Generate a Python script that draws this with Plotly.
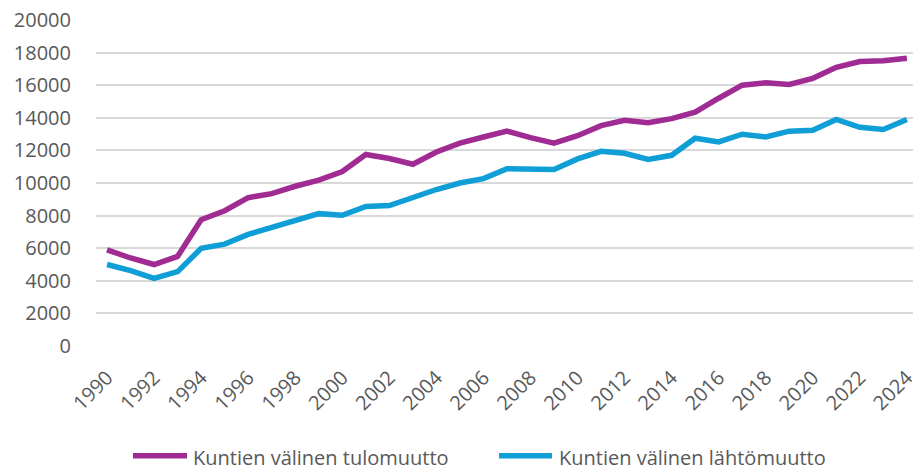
import plotly.graph_objects as go

years = list(range(1990, 2025))
tulomuutto = [5900, 5400, 5000, 5500, 7750, 8300, 9100, 9350, 9800, 10180,
              10700, 11750, 11500, 11150, 11900, 12450, 12820, 13180, 12780, 12450,
              12900, 13520, 13850, 13700, 13950, 14350, 15200, 16000, 16150, 16050,
              16420, 17100, 17450, 17500, 17650]
lahtomuutto = [5000, 4620, 4150, 4560, 5990, 6250, 6850, 7250, 7670, 8120,
               8020, 8560, 8620, 9150, 9600, 10000, 10270, 10880, 10880, 10830,
               11480, 11940, 11820, 11440, 11700, 12750, 12520, 12990, 12830, 13180,
               13230, 13900, 13420, 13280, 13900]
series_names = ["Kuntien välinen tulomuutto", "Kuntien välinen lähtömuutto"]
colors = ["#A02B93", "#0F9ED5"]
y_ticks = list(range(0, 20001, 2000))
x_ticks = list(range(1990, 2025, 2))

FONT = "Open Sans"
TXT = "#595959"

fig = go.Figure()
for name, vals, col in zip(series_names, [tulomuutto, lahtomuutto], colors):
    fig.add_trace(go.Scatter(x=years, y=vals, mode="lines", name=name,
                             line=dict(color=col, width=5.5),
                             showlegend=False, cliponaxis=False))

# manual legend (swatch x0, swatch x1, text x) in paper coords
leg_items = [(0.0453, 0.1114, 0.1175), (0.4933, 0.5581, 0.5655)]
for (x0, x1, tx), name, col in zip(leg_items, series_names, colors):
    fig.add_shape(type="line", xref="paper", yref="paper",
                  x0=x0, x1=x1, y0=-0.337, y1=-0.337,
                  line=dict(color=col, width=5.5))
    fig.add_annotation(xref="paper", yref="paper", x=tx, y=-0.341,
                       xanchor="left", yanchor="middle", showarrow=False,
                       borderpad=0, text=name,
                       font=dict(family=FONT, size=20, color=TXT))

fig.update_layout(
    width=913, height=466,
    margin=dict(l=96, r=0, t=20, b=120, autoexpand=False),
    paper_bgcolor="white", plot_bgcolor="white",
    font=dict(family=FONT, size=20, color=TXT),
    xaxis=dict(range=[1989.53, 2024.26], tickmode="array", tickvals=x_ticks,
               ticktext=[str(v) for v in x_ticks], tickangle=-45,
               showgrid=False, zeroline=False, showline=False,
               ticks="", ticklabelstandoff=15, automargin=False,
               ticklabeloverflow="allow",
               tickfont=dict(family=FONT, size=20, color=TXT)),
    yaxis=dict(range=[0, 20000], tickmode="array", tickvals=y_ticks,
               ticktext=[str(v) for v in y_ticks],
               showgrid=True, gridcolor="#D9D9D9", gridwidth=1.5,
               zeroline=False, showline=False, ticks="",
               ticklabelstandoff=24, automargin=False,
               ticklabeloverflow="allow",
               tickfont=dict(family=FONT, size=20, color=TXT)),
)

fig.write_html("out.html", config={"displayModeBar": False},
               post_script="document.body.style.margin='0';document.body.style.overflow='hidden';")
